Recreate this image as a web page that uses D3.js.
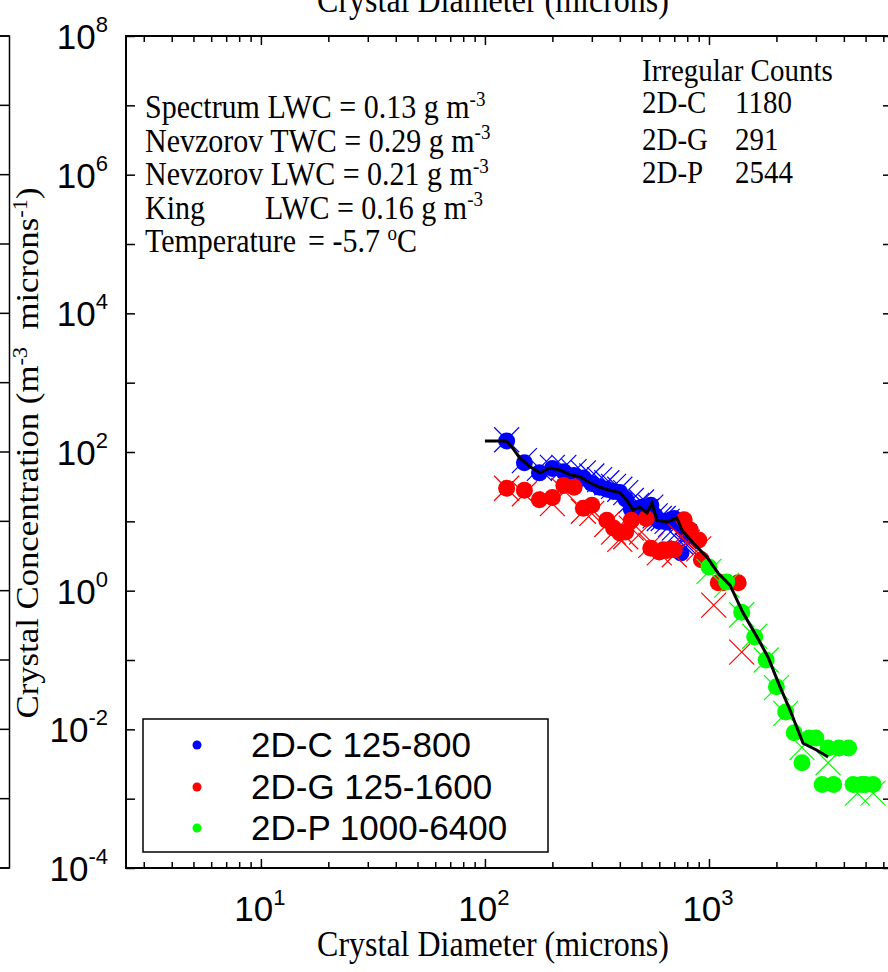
<!DOCTYPE html>
<html>
<head>
<meta charset="utf-8">
<script src="https://cdn.jsdelivr.net/npm/d3@7"></script>
<style>
  body { margin: 0; background: #fff; }
  svg { display: block; }
  text { white-space: pre; }
</style>
</head>
<body>
<div id="chart"></div>
<script>
// ---- data ----
// 2D-C 125-800 (blue)
var blueD  = [125, 150, 175, 200, 225, 250, 275, 300, 325, 350, 375, 400, 425, 450, 475, 500, 525, 550, 575, 600, 625, 650, 675, 700, 725, 750, 775, 800];
var blueV  = [144, 70, 50, 58, 52, 46, 42, 35, 31, 29, 27, 26, 21, 15, 15, 16, 13.5, 17, 12, 10, 10, 9.8, 10.5, 11, 10, 3.5, 8, 6.5];
var blueXV = [150, 75, 58, 60, 60, 52, 50, 45, 40, 36, 32, 29, 26, 20, 17, 19, 14, 16, 12, 11, 11, 10, 9, 8, 7, 5, 6, 4.5];

// 2D-G 125-1600 (red)
var redD  = [125, 150, 175, 200, 225, 250, 275, 300, 350, 375, 400, 425, 450, 525, 550, 600, 625, 650, 675, 700, 775, 825, 900, 925, 1100, 1150, 1350];
var redV  = [30, 28, 20.5, 22, 33, 31, 15.5, 17, 10.4, 8, 6.8, 7, 10.4, 11, 4.1, 3.6, 3.9, 3.8, 4.0, 3.9, 10.5, 7.5, 5.4, 2.8, 1.3, 1.3, 1.3];
var redXD = [125, 150, 200, 225, 275, 300, 350, 375, 400, 425, 450, 500, 550, 600, 700, 750, 800, 900, 1050, 1400];
var redXV = [30, 25, 18, 28, 14, 13, 9, 7, 5.5, 6, 8, 7, 4.5, 3.5, 3.3, 6, 5, 4, 0.62, 0.13];

// 2D-P 1000-6400 (green)
var greenD  = [1000, 1200, 1400, 1600, 1800, 2000, 2200, 2400, 2600, 2800, 3000, 3200, 3400, 3600, 3800, 4200, 4400, 4800, 5000, 5400];
var greenV  = [2.2, 1.33, 0.49, 0.215, 0.1, 0.041, 0.0178, 0.0089, 0.0033, 0.0075, 0.0075, 0.0016, 0.0054, 0.0016, 0.0054, 0.0054, 0.0016, 0.0016, 0.0016, 0.0016];
var greenXD = [1000, 1200, 1400, 1600, 1800, 2000, 2200, 2600, 3400, 4600, 5400];
var greenXV = [1.9, 1.2, 0.45, 0.22, 0.1, 0.04, 0.017, 0.0055, 0.0033, 0.0012, 0.0012];

// composite spectrum (black line)
var lineD = [100, 125, 133, 143, 159, 176, 195, 216, 240, 265, 294, 326, 361, 400, 430, 458, 492, 529, 557, 586, 649, 719, 757, 849, 980, 1097, 1241, 1419, 1638, 1835, 2075, 2300, 2630, 3035, 3400];
var lineV = [144, 144, 114, 82, 61, 50, 59, 55, 47, 44, 36, 31, 28, 26, 20, 14.6, 16, 13.2, 18.4, 10.4, 9.8, 11.2, 7.5, 4.9, 3.05, 1.8, 1.2, 0.48, 0.215, 0.11, 0.041, 0.019, 0.0063, 0.005, 0.004];

var legendLabels = ["2D-C 125-800", "2D-G 125-1600", "2D-P 1000-6400"];
var legendColors = ["#0000ff", "#ff0000", "#00ff00"];

var infoLines = [
  ["Spectrum LWC = 0.13 g m", "-3"],
  ["Nevzorov TWC = 0.29 g m", "-3"],
  ["Nevzorov LWC = 0.21 g m", "-3"],
  ["King", "LWC = 0.16 g m", "-3"],
  ["Temperature", "= -5.7 ", "o", "C"]
];
var countNames = ["2D-C", "2D-G", "2D-P"];
var countValues = [1180, 291, 2544];

var yLabelExp = [-4, -2, 0, 2, 4, 6, 8];
var xLabelExp = [1, 2, 3];

//=========================== layout ================================//
var width = 888, height = 972;
var serif = "'Liberation Serif', 'Times New Roman', serif";
var sans = "'Liberation Sans', Arial, sans-serif";
var stretch = 1.12; // the serif text in the picture is drawn a bit taller than wide

var x = d3.scaleLog().domain([2.5, 6560]).range([126, 892]);
var y = d3.scaleLog().domain([1e-4, 1e8]).range([868, 36]);

var svg = d3.select("#chart").append("svg")
  .attr("width", width)
  .attr("height", height);

// edge of the neighbouring panel on the left
var nb = svg.append("g").attr("stroke", "#000").attr("stroke-width", 1.5);
nb.append("path").attr("fill", "none")
  .attr("d", "M0,36H9.5V868H0");
var decades = d3.range(-4, 9).map(function(e) { return Math.pow(10, e); });
nb.selectAll("line").data(decades).enter().append("line")
  .attr("x1", 0).attr("x2", 9.5)
  .attr("y1", function(d) { return y(d); })
  .attr("y2", function(d) { return y(d); });

// frame
svg.append("rect")
  .attr("x", 126).attr("y", 36)
  .attr("width", 892 - 126).attr("height", 868 - 36)
  .attr("fill", "none").attr("stroke", "#000").attr("stroke-width", 2);

// ticks
var majorX = [10, 100, 1000];
var minorX = [];
[1, 10, 100, 1000].forEach(function(b) {
  for (var k = 2; k <= 9; k++) {
    var v = b * k;
    if (v >= 2.5 && v <= 6560) minorX.push(v);
  }
});

function noDomain(g) { g.select(".domain").remove(); g.selectAll("line").attr("stroke-width", 1.5); }

svg.append("g").attr("transform", "translate(0,868)")
  .call(d3.axisBottom(x).tickValues(majorX).tickSize(-9).tickFormat(""))
  .call(noDomain);
svg.append("g").attr("transform", "translate(0,868)")
  .call(d3.axisBottom(x).tickValues(minorX).tickSize(-6).tickFormat(""))
  .call(noDomain);
svg.append("g").attr("transform", "translate(0,36)")
  .call(d3.axisTop(x).tickValues(majorX).tickSize(-9).tickFormat(""))
  .call(noDomain);
svg.append("g").attr("transform", "translate(0,36)")
  .call(d3.axisTop(x).tickValues(minorX).tickSize(-6).tickFormat(""))
  .call(noDomain);
svg.append("g").attr("transform", "translate(126,0)")
  .call(d3.axisLeft(y).tickValues(decades).tickSize(-9).tickFormat(""))
  .call(noDomain);
svg.append("g").attr("transform", "translate(892,0)")
  .call(d3.axisRight(y).tickValues(decades).tickSize(-9).tickFormat(""))
  .call(noDomain);

// tick labels, 10 with a raised exponent
var yl = svg.append("g").attr("font-family", sans).attr("font-size", 35);
yLabelExp.forEach(function(e) {
  var t = yl.append("text")
    .attr("x", 108).attr("y", y(Math.pow(10, e)) + 13)
    .attr("text-anchor", "end");
  t.append("tspan").text("10");
  t.append("tspan").attr("dy", -17).attr("font-size", 22).text(e);
});
xLabelExp.forEach(function(e) {
  var t = yl.append("text")
    .attr("x", x(Math.pow(10, e)) - 1).attr("y", 921)
    .attr("text-anchor", "middle");
  t.append("tspan").text("10");
  t.append("tspan").attr("dy", -16).attr("font-size", 22).text(e);
});

// serif text helper: group is stretched vertically
function serifText(px, py, size) {
  return svg.append("g")
    .attr("transform", "translate(" + px + "," + py + ") scale(1," + stretch + ")")
    .append("text")
    .attr("font-family", serif)
    .attr("font-size", size);
}

// axis titles (the top one belongs to the panel above and is cut off)
serifText(493, 12, 32).attr("text-anchor", "middle").text("Crystal Diameter (microns)");
serifText(493, 956, 32).attr("text-anchor", "middle").text("Crystal Diameter (microns)");

var yt = svg.append("g")
  .attr("transform", "translate(38,453) scale(1," + stretch + ") rotate(-90)")
  .append("text")
  .attr("font-family", serif).attr("font-size", 31)
  .attr("text-anchor", "middle");
yt.append("tspan").text("Crystal Concentration (m");
yt.append("tspan").attr("dy", -11).attr("font-size", 20).text("-3");
yt.append("tspan").attr("dy", 11).text("  microns");
yt.append("tspan").attr("dy", -11).attr("font-size", 20).text("-1");
yt.append("tspan").attr("dy", 11).text(")");

// info block
var infoY = [118, 151.5, 185, 218.5, 252];
infoLines.forEach(function(parts, i) {
  var t = serifText(145, infoY[i], 30);
  if (parts.length === 2) {
    t.append("tspan").text(parts[0]);
    t.append("tspan").attr("dy", -11).attr("font-size", 19).text(parts[1]);
  } else if (parts.length === 3) {
    t.append("tspan").text(parts[0]);
    t.append("tspan").attr("x", 120).text(parts[1]);
    t.append("tspan").attr("dy", -11).attr("font-size", 19).text(parts[2]);
  } else {
    t.append("tspan").text(parts[0]);
    t.append("tspan").attr("x", 163).text(parts[1]);
    t.append("tspan").attr("dy", -11).attr("font-size", 19).text(parts[2]);
    t.append("tspan").attr("dy", 11).text(parts[3]);
  }
});

serifText(642, 81, 29).text("Irregular Counts");
var countY = [113, 150, 183];
countNames.forEach(function(n, i) {
  var t = serifText(642, countY[i], 29);
  t.append("tspan").text(n);
  t.append("tspan").attr("x", 93).text(countValues[i]);
});

// data
var plot = svg.append("g");

function crosses(xs, vs, color) {
  var s = 12.5;
  plot.append("g").selectAll("path")
    .data(d3.zip(xs, vs)).enter().append("path")
    .attr("d", function(d) {
      var cx = x(d[0]), cy = y(d[1]);
      return "M" + (cx - s) + "," + (cy - s) + "L" + (cx + s) + "," + (cy + s) +
             "M" + (cx - s) + "," + (cy + s) + "L" + (cx + s) + "," + (cy - s);
    })
    .attr("stroke", color).attr("stroke-width", 1.2).attr("fill", "none");
}
function dots(xs, vs, color) {
  plot.append("g").selectAll("circle")
    .data(d3.zip(xs, vs)).enter().append("circle")
    .attr("cx", function(d) { return x(d[0]); })
    .attr("cy", function(d) { return y(d[1]); })
    .attr("r", 8.5)
    .attr("fill", color);
}

dots(blueD, blueV, "#0000ff");
crosses(blueD, blueXV, "#0000ff");
dots(redD, redV, "#ff0000");
crosses(redXD, redXV, "#ff0000");
dots(greenD, greenV, "#00ff00");
crosses(greenXD, greenXV, "#00ff00");

plot.append("path")
  .datum(d3.zip(lineD, lineV))
  .attr("fill", "none")
  .attr("stroke", "#000")
  .attr("stroke-width", 3)
  .attr("d", d3.line()
    .x(function(d) { return x(d[0]); })
    .y(function(d) { return y(d[1]); }));

// legend
var lg = svg.append("g");
lg.append("rect")
  .attr("x", 143).attr("y", 719).attr("width", 548 - 143).attr("height", 852 - 719)
  .attr("fill", "#fff").attr("stroke", "#000").attr("stroke-width", 1.5);
var legY = [757, 799, 840];
legendLabels.forEach(function(l, i) {
  lg.append("circle").attr("cx", 197).attr("cy", legY[i] - 12).attr("r", 4.5).attr("fill", legendColors[i]);
  lg.append("text").attr("x", 251).attr("y", legY[i])
    .attr("font-family", sans).attr("font-size", 35).text(l);
});
</script>
</body>
</html>
